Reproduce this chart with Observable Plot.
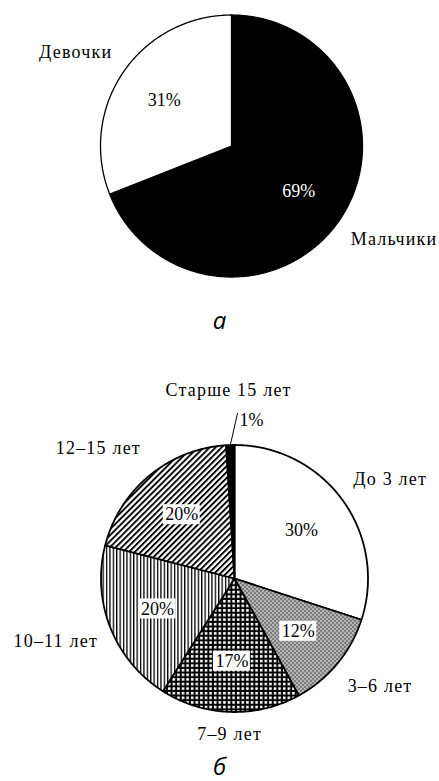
<!DOCTYPE html>
<html>
<head>
<meta charset="utf-8">
<script src="https://cdn.jsdelivr.net/npm/d3@7"></script>
<script src="https://cdn.jsdelivr.net/npm/@observablehq/plot@0.6"></script>
<style>
  html, body { margin: 0; padding: 0; background: #fff; }
  body { width: 439px; }
  .cap { font-family: "Open Sans", sans-serif; font-style: italic; font-size: 24px; text-align: center; color: #000; }
  #capA { height: 40px; line-height: 40px; }
  #capB { height: 31px; line-height: 31px; }
  svg { display: block; }
  svg text { font-family: "Liberation Serif", "DejaVu Serif", serif !important; }
</style>
</head>
<body>
<div id="chartA"></div>
<div class="cap" id="capA">а</div>
<div id="chartB"></div>
<div class="cap" id="capB">б</div>
<script>
// ---- data ----
const genderCategories = ["Мальчики", "Девочки"];
const genderShares = [69, 31];
const ageCategories = ["До 3 лет", "3–6 лет", "7–9 лет", "10–11 лет", "12–15 лет", "Старше 15 лет"];
const ageShares = [30, 12, 17, 20, 20, 1];

// ---- styling ----
const genderFills = ["black", "white"];
const genderTextFills = ["white", "black"];
const ageFills = ["white", "url(#pDots)", "url(#pGrid)", "url(#pVert)", "url(#pDiag)", "black"];
const ageTextFills = ["black", "black", "black", "black", "black", "black"];
const FONT = "Liberation Serif";

function sliceGeometry(cats, vals, fills) {
  const arcs = d3.pie().sort(null).value(d => d)(vals);
  const rows = [];
  arcs.forEach((a, i) => {
    const n = Math.max(2, Math.ceil((a.endAngle - a.startAngle) / 0.01));
    rows.push({k: cats[i], x: 0, y: 0, f: fills[i]});
    for (let j = 0; j <= n; j++) {
      const t = a.startAngle + (a.endAngle - a.startAngle) * j / n;
      rows.push({k: cats[i], x: Math.sin(t), y: Math.cos(t), f: fills[i]});
    }
    rows.push({k: cats[i], x: 0, y: 0, f: fills[i]});
  });
  return {arcs, rows};
}

function labels(arcs, cats, vals, textFills) {
  const inside = [], outside = [], leaders = [], small = [];
  arcs.forEach((a, i) => {
    const m = (a.startAngle + a.endAngle) / 2;
    const s = Math.sin(m), c = Math.cos(m);
    const pct = vals[i] + "%";
    if (vals[i] >= 3) {
      inside.push({x: 0.62 * s, y: 0.62 * c, t: pct, f: textFills[i]});
      if (Math.abs(s) < 0.3) outside.push({x: 1.17 * s, y: 1.17 * c, t: cats[i], a: "middle"});
      else outside.push({x: 1.1 * s, y: 1.27 * c, t: cats[i], a: s > 0 ? "start" : "end"});
    } else {
      const m2 = m + 0.05;
      leaders.push({x1: Math.sin(m), y1: Math.cos(m), x2: 1.24 * Math.sin(m2), y2: 1.24 * Math.cos(m2)});
      small.push({x: 1.24 * Math.sin(m2), y: 1.24 * Math.cos(m2), t: pct});
      outside.push({x: 1.41 * s, y: 1.41 * c, t: cats[i], a: "middle"});
    }
  });
  return {inside, outside, leaders, small};
}

function addPatterns(svg) {
  const defs = d3.select(svg).insert("defs", ":first-child");
  const p1 = defs.append("pattern").attr("id", "pDots").attr("patternUnits", "userSpaceOnUse").attr("width", 4).attr("height", 4);
  p1.append("rect").attr("width", 4).attr("height", 4).attr("fill", "#9a9a9a");
  [[0,0,"#fff"],[2,2,"#fff"],[2,0,"#222"],[0,2,"#222"]].forEach(([x,y,f]) =>
    p1.append("rect").attr("x", x).attr("y", y).attr("width", 1).attr("height", 1).attr("fill", f));
  const p2 = defs.append("pattern").attr("id", "pGrid").attr("patternUnits", "userSpaceOnUse").attr("width", 4.6).attr("height", 4.6);
  p2.append("rect").attr("width", 4.6).attr("height", 4.6).attr("fill", "#000");
  p2.append("rect").attr("x", 1.8).attr("y", 1.8).attr("width", 2.6).attr("height", 2.6).attr("fill", "#fff");
  const p3 = defs.append("pattern").attr("id", "pVert").attr("patternUnits", "userSpaceOnUse").attr("width", 3.4).attr("height", 10);
  p3.append("rect").attr("width", 3.4).attr("height", 10).attr("fill", "#fff");
  p3.append("rect").attr("width", 1.3).attr("height", 10).attr("fill", "#000");
  const p4 = defs.append("pattern").attr("id", "pDiag").attr("patternUnits", "userSpaceOnUse").attr("width", 4.2).attr("height", 10).attr("patternTransform", "rotate(45)");
  p4.append("rect").attr("width", 4.2).attr("height", 10).attr("fill", "#fff");
  p4.append("rect").attr("width", 1.9).attr("height", 10).attr("fill", "#000");
}

function pie({cats, vals, fills, textFills, width, height, cx, cy, unit, boxes, strokeWidth}) {
  const {arcs, rows} = sliceGeometry(cats, vals, fills);
  const L = labels(arcs, cats, vals, textFills);
  const bw = 18.5 / unit, bh = 10 / unit;
  const marks = [
    Plot.line(rows, {x: "x", y: "y", z: "k", fill: "f", stroke: "black", strokeWidth, strokeLinejoin: "miter", curve: "linear"})
  ];
  if (boxes) {
    marks.push(Plot.rect(L.inside, {x1: d => d.x - bw, x2: d => d.x + bw, y1: d => d.y - bh, y2: d => d.y + bh, fill: "white"}));
  }
  marks.push(Plot.text(L.inside, {x: "x", y: "y", text: "t", fill: "f", fontFamily: FONT, fontSize: 18}));
  for (const anchor of ["start", "middle", "end"]) {
    marks.push(Plot.text(L.outside.filter(d => d.a === anchor), {
      x: "x", y: "y", text: "t", textAnchor: anchor, fill: "black", fontFamily: FONT, fontSize: 18
    }));
  }
  marks.push(
    Plot.link(L.leaders, {x1: "x1", y1: "y1", x2: "x2", y2: "y2", stroke: "black", strokeWidth: 1}),
    Plot.text(L.small, {x: "x", y: "y", text: "t", textAnchor: "start", dx: 2, dy: 7, fill: "black", fontFamily: FONT, fontSize: 18})
  );
  const svg = Plot.plot({
    width, height, margin: 0,
    style: {background: "white", overflow: "visible", fontFamily: FONT},
    x: {domain: [-cx / unit, (width - cx) / unit], axis: null},
    y: {domain: [-(height - cy) / unit, cy / unit], axis: null},
    color: {type: "identity"},
    marks
  });
  addPatterns(svg);
  d3.select(svg).selectAll("text").filter(function() { return cats.includes(this.textContent); })
    .style("letter-spacing", "1.2px");
  return svg;
}

document.getElementById("chartA").append(pie({
  cats: genderCategories, vals: genderShares, fills: genderFills, textFills: genderTextFills,
  width: 439, height: 300, cx: 231, cy: 145.5, unit: 131, boxes: false, strokeWidth: 1.3
}));
document.getElementById("chartB").append(pie({
  cats: ageCategories, vals: ageShares, fills: ageFills, textFills: ageTextFills,
  width: 439, height: 410, cx: 234, cy: 238, unit: 133.5, boxes: true, strokeWidth: 1.8
}));
</script>
</body>
</html>
